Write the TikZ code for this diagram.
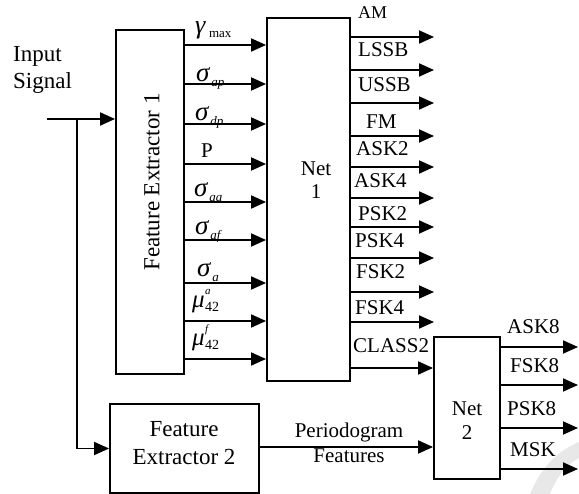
\documentclass[tikz,border=0pt]{standalone}
\usepackage{fontspec}
\setmainfont{Liberation Serif}
\usetikzlibrary{arrows.meta}

% feature labels: italic symbol with lowered subscript
\newcommand\sigfeat[1]{{\fontsize{27}{27}\selectfont\textit{σ}}\kern1pt\raisebox{-5pt}{\fontsize{13}{13}\selectfont\textit{#1}}}
\newcommand\mufeat[1]{{\fontsize{25}{25}\selectfont\textit{μ}}\kern0.5pt\rlap{\raisebox{13pt}{\fontsize{11}{11}\selectfont\textit{#1}}}\raisebox{-4pt}{\fontsize{14}{14}\selectfont 42}}

\begin{document}
\begin{tikzpicture}[x=1pt,y=-1pt,
  box/.style={draw,line width=1.9pt,inner sep=0pt,rectangle},
  arr/.style={line width=1.9pt,-{Triangle[length=15pt,width=13pt]}},
  big/.style={font=\fontsize{23}{27}\selectfont,inner sep=0pt},
  lab/.style={font=\fontsize{21}{24}\selectfont,inner sep=0pt,anchor=base west},
  flab/.style={font=\fontsize{21}{24}\selectfont,inner sep=0pt,anchor=base west}]
\useasboundingbox (0,0) rectangle (579,494);

% faint arc in the lower right corner
\fill[gray!18] (530,494) .. controls (540,470) and (555,452) .. (579,442)
  -- (579,458) .. controls (566,465) and (556,478) .. (550,494) -- cycle;

% blocks
\node[box,minimum width=68pt,minimum height=344pt] (fe1) at (150,202) {};
\node[box,minimum width=83pt,minimum height=363pt] (net1) at (308.5,199.5) {};
\node[box,minimum width=149pt,minimum height=89pt] (fe2) at (184.5,448.5) {};
\node[box,minimum width=66pt,minimum height=142pt] (net2) at (467,408) {};

% block texts
\node[big,rotate=90] (fe1t) at (152,182) {Feature Extractor 1};
\node[lab,anchor=base] (n1a) at (316,176) {Net};
\node[lab,anchor=base] (n1b) at (316,199) {1};
\node[lab,anchor=base] (n2a) at (467,416) {Net};
\node[lab,anchor=base] (n2b) at (467,440) {2};
\node[big,anchor=base] (fe2a) at (184,437) {Feature};
\node[big,anchor=base] (fe2b) at (184,465) {Extractor 2};

% input signal
\node[big,anchor=base west] (in1) at (13,62) {Input};
\node[big,anchor=base west] (in2) at (13,89) {Signal};
\coordinate (src) at (47,119);
\coordinate (split) at (77,119);
\draw[arr] (src) -- (fe1.west |- src);
\draw[arr] (split) |- (fe2.west);

% features from extractor 1 into net 1
\foreach \y [count=\i] in {45,84,124,164,202,240,283,321,359} {
  \coordinate (f\i) at (0,\y);
  \draw[arr] (fe1.east |- f\i) -- (net1.west |- f\i);
}
\node[flab] (g) at (195,34) {{\fontsize{26}{26}\selectfont\textit{γ}}\kern3pt\raisebox{-4pt}{\fontsize{13}{13}\selectfont max}};
\node[flab] (s1) at (196,82) {\sigfeat{ap}};
\node[flab] (s2) at (195,121) {\sigfeat{dp}};
\node[flab] (p)  at (201,158) {P};
\node[flab] (s3) at (194,197) {\sigfeat{aa}};
\node[flab] (s4) at (195,235) {\sigfeat{af}};
\node[flab] (s5) at (197,277) {\sigfeat{a}};
\node[flab] (m1) at (192,308) {\mufeat{a}};
\node[flab] (m2) at (192,346) {\mufeat{f}};

% outputs of net 1
\foreach \y [count=\i] in {37,70,103,136,167,198,227,258,292,322} {
  \coordinate (o\i) at (434,\y);
  \draw[arr] (net1.east |- o\i) -- (o\i);
}
\node[lab,font=\fontsize{18}{20}\selectfont] (am) at (358,19) {AM};
\node[lab] (lssb) at (358,57) {LSSB};
\node[lab] (ussb) at (358,92) {USSB};
\node[lab] (fm)   at (366,129) {FM};
\node[lab] (ask2) at (356,156) {ASK2};
\node[lab] (ask4) at (354,188) {ASK4};
\node[lab] (psk2) at (358,221) {PSK2};
\node[lab] (psk4) at (355,248) {PSK4};
\node[lab] (fsk2) at (356,279) {FSK2};
\node[lab] (fsk4) at (355,315) {FSK4};
\node[lab] (cls)  at (353,353) {CLASS2};

% net 1 to net 2
\coordinate (c2) at (0,368);
\draw[arr] (net1.east |- c2) -- (net2.west |- c2);

% periodogram path
\coordinate (pg) at (0,447);
\draw[arr] (fe2.east |- pg) -- (net2.west |- pg);
\node[lab,anchor=base] (pga) at (349,438) {Periodogram};
\node[lab,anchor=base] (pgb) at (349,463) {Features};

% outputs of net 2
\foreach \y [count=\i] in {347,385,428,469} {
  \coordinate (q\i) at (578,\y);
  \draw[arr] (net2.east |- q\i) -- (q\i);
}
\node[lab] (ask8) at (507,334) {ASK8};
\node[lab] (fsk8) at (510,373) {FSK8};
\node[lab] (psk8) at (507,416) {PSK8};
\node[lab] (msk)  at (510,457) {MSK};
\end{tikzpicture}
\end{document}
